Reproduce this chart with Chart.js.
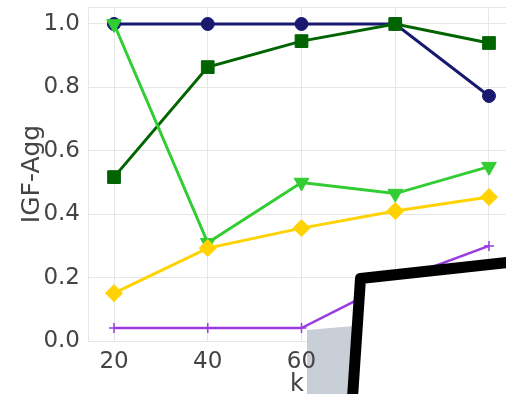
<!DOCTYPE html>
<html>
<head>
<meta charset="utf-8">
<script src="https://cdn.jsdelivr.net/npm/chart.js@4/dist/chart.umd.min.js"></script>
<style>
  html, body { margin: 0; padding: 0; background: #fff; overflow: hidden; }
  #wrap { width: 506px; height: 394px; position: relative; }
</style>
</head>
<body>
<div id="wrap"><canvas id="c" width="506" height="394"></canvas></div>
<script>
// k values on the x axis
const kValues = [20, 40, 60, 80, 100];

// IGF-Agg per series
const seriesNavy      = [1.0, 1.0, 1.0, 1.0, 0.773];
const seriesDarkGreen = [0.517, 0.864, 0.946, 1.0, 0.94];
const seriesLime      = [1.0, 0.31, 0.50, 0.465, 0.55];
const seriesGold      = [0.151, 0.293, 0.356, 0.41, 0.454];
const seriesPurple    = [0.041, 0.041, 0.041, 0.19, 0.30];

// tick positions
const xTickValues = [20, 40, 60, 80, 100];
const yTickValues = [0, 0.2, 0.4, 0.6, 0.8, 1.0];

const FONT = 'DejaVu Sans';
const TICK_COLOR = '#444444';
const GRID_COLOR = '#e6e6e6';

function pts(values) {
  return kValues.map((k, i) => ({ x: k, y: values[i] }));
}

function series(values, color, style, radius, order, extra) {
  return Object.assign({
    data: pts(values),
    borderColor: color,
    backgroundColor: color,
    borderWidth: 3,
    pointStyle: style,
    pointRadius: radius,
    pointHoverRadius: radius,
    pointBorderWidth: 1,
    pointBorderColor: color,
    pointBackgroundColor: color,
    tension: 0,
    clip: 12,
    order: order
  }, extra || {});
}

// no extra room for labels at the ends of the axes
function noEdgePadding(s) {
  s.paddingLeft = 0;
  s.paddingRight = 0;
  s.paddingTop = 0;
  s.paddingBottom = 0;
}

// frame edge along the top of the plot
const topFrame = {
  id: 'topFrame',
  beforeDatasetsDraw(chart) {
    const { ctx, chartArea } = chart;
    ctx.save();
    ctx.strokeStyle = GRID_COLOR;
    ctx.lineWidth = 1;
    ctx.beginPath();
    ctx.moveTo(chartArea.left, chartArea.top + 0.5);
    ctx.lineTo(chartArea.right, chartArea.top + 0.5);
    ctx.stroke();
    ctx.restore();
  }
};

// grey sheet and white card with a heavy black edge lying over the lower right corner
const cornerCard = {
  id: 'cornerCard',
  beforeDatasetsDraw(chart) {
    const ctx = chart.ctx;
    ctx.save();
    ctx.fillStyle = '#c9cfd6';
    ctx.beginPath();
    ctx.moveTo(307, 330);
    ctx.lineTo(354, 326);
    ctx.lineTo(349, 400);
    ctx.lineTo(307, 400);
    ctx.closePath();
    ctx.fill();
    ctx.restore();
  },
  afterDraw(chart) {
    const ctx = chart.ctx;
    ctx.save();
    ctx.beginPath();
    ctx.moveTo(351, 420);
    ctx.lineTo(360.5, 278.5);
    ctx.lineTo(530, 260);
    ctx.lineTo(530, 420);
    ctx.closePath();
    ctx.fillStyle = '#ffffff';
    ctx.fill();
    ctx.beginPath();
    ctx.moveTo(351, 420);
    ctx.lineTo(360.5, 278.5);
    ctx.lineTo(530, 260);
    ctx.lineJoin = 'round';
    ctx.lineWidth = 11;
    ctx.strokeStyle = '#000000';
    ctx.stroke();
    ctx.restore();
  }
};

new Chart(document.getElementById('c'), {
  type: 'line',
  data: {
    datasets: [
      series(seriesNavy, '#191970', 'circle', 6.5, 5),
      series(seriesDarkGreen, '#006400', 'rect', 9, 4),
      series(seriesLime, '#32cd32', 'triangle', 8.5, 3, { pointRotation: 180 }),
      series(seriesGold, '#ffd200', 'rectRot', 8.5, 2),
      series(seriesPurple, '#9b3be0', 'cross', 5, 1, { borderWidth: 2.5, pointBorderWidth: 1.5 })
    ]
  },
  options: {
    responsive: false,
    devicePixelRatio: 1,
    animation: false,
    events: [],
    layout: { autoPadding: false, padding: { top: 7, right: 0, left: 0, bottom: 0 } },
    plugins: {
      legend: { display: false },
      tooltip: { enabled: false }
    },
    scales: {
      x: {
        type: 'linear',
        min: 14.45,
        max: 103.63,
        afterBuildTicks: s => { s.ticks = xTickValues.map(v => ({ value: v })); },
        afterFit: s => { s.height = 53; noEdgePadding(s); },
        grid: { color: GRID_COLOR, lineWidth: 1, drawTicks: false },
        border: { color: GRID_COLOR, width: 1 },
        ticks: {
          z: 1,
          color: TICK_COLOR,
          padding: 7,
          maxRotation: 0,
          font: { family: FONT, size: 23 },
          callback: v => String(v)
        },
        title: {
          display: true,
          text: 'k',
          color: TICK_COLOR,
          padding: { top: 0, bottom: -5 },
          font: { family: FONT, size: 24 }
        }
      },
      y: {
        type: 'linear',
        min: 0,
        max: 1.0536,
        afterBuildTicks: s => { s.ticks = yTickValues.map(v => ({ value: v })); },
        afterFit: s => { s.width = 88; noEdgePadding(s); },
        grid: { color: GRID_COLOR, lineWidth: 1, drawTicks: false },
        border: { color: GRID_COLOR, width: 1 },
        ticks: {
          color: TICK_COLOR,
          padding: 8,
          font: { family: FONT, size: 23 },
          callback: v => v.toFixed(1)
        },
        title: {
          display: true,
          text: 'IGF-Agg',
          color: TICK_COLOR,
          padding: { top: 17, bottom: 0 },
          font: { family: FONT, size: 25 }
        }
      }
    }
  },
  plugins: [topFrame, cornerCard]
});
</script>
</body>
</html>
